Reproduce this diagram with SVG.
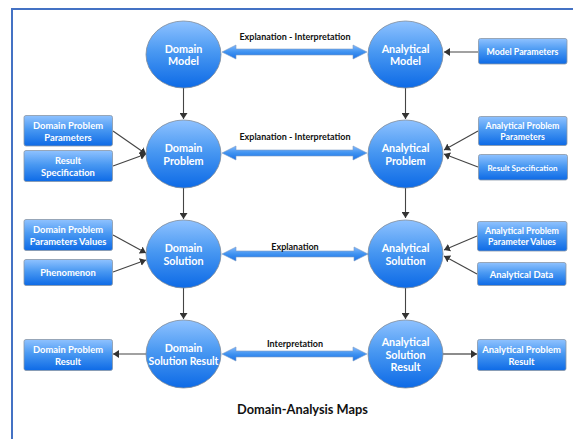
<svg xmlns="http://www.w3.org/2000/svg" width="573" height="439" viewBox="0 0 573 439">
<defs>
<linearGradient id="g" x1="0" y1="0" x2="0" y2="1"><stop offset="0" stop-color="#8fc2ff"/><stop offset="0.45" stop-color="#4a99f2"/><stop offset="1" stop-color="#0d6ae6"/></linearGradient>
<linearGradient id="b" x1="0" y1="0" x2="0" y2="1"><stop offset="0" stop-color="#7fb8ff"/><stop offset="0.5" stop-color="#3f92f0"/><stop offset="1" stop-color="#1a72e8"/></linearGradient>
<marker id="a" markerUnits="userSpaceOnUse" markerWidth="7" markerHeight="8" refX="6" refY="4" orient="auto"><path d="M0 0L6 4L0 8Z" fill="#333"/></marker>
</defs>
<style>
text{font-family:Lato,"Liberation Sans",sans-serif;text-anchor:middle}
.n ellipse{fill:url(#g);stroke:#7d8a99;stroke-width:.8}
.n rect{fill:url(#g);stroke:#8a97a6;stroke-width:.8}
.n text{fill:#fff;font-weight:700}
.c{font-size:10.800px}
.r{font-size:9.400px}
.s{font-size:8.800px}
.l{font-size:9px;font-weight:700;fill:#111}
.t{font-size:12.800px;font-weight:700;fill:#111}
.e line{stroke:#444;stroke-width:1.1;marker-end:url(#a)}
.d{fill:url(#b);stroke:#7d9cc4;stroke-width:.6}
</style>
<path d="M12 439V9H573" fill="none" stroke="#4472c4" stroke-width="2"/>
<g id="connectors" class="e">
<line x1="183.500" y1="88" x2="183.500" y2="119"/>
<line x1="183.500" y1="188" x2="183.500" y2="219"/>
<line x1="183.500" y1="288" x2="183.500" y2="319"/>
<line x1="405.500" y1="88" x2="405.500" y2="119"/>
<line x1="405.500" y1="188" x2="405.500" y2="218"/>
<line x1="405.500" y1="288" x2="405.500" y2="319"/>
<line x1="113" y1="131" x2="146" y2="154"/>
<line x1="113" y1="166" x2="146" y2="154"/>
<line x1="113" y1="235" x2="146" y2="253"/>
<line x1="113" y1="272" x2="146" y2="260"/>
<line x1="146" y1="354" x2="113" y2="354"/>
<line x1="478" y1="52" x2="444" y2="52"/>
<line x1="478" y1="131" x2="444" y2="150"/>
<line x1="478" y1="167" x2="444" y2="154"/>
<line x1="477" y1="236" x2="444" y2="250"/>
<line x1="477" y1="274" x2="444" y2="256"/>
<line x1="443" y1="354" x2="477" y2="354" style="stroke:#666;stroke-width:1.500"/>
<path class="d" d="M222 52L236 45V49H353V45L367 52L353 59V55H236V59Z"/>
<path class="d" d="M222 153L236 146V150H353V146L367 153L353 160V156H236V160Z"/>
<path class="d" d="M222 254L236 247V251H354V247L368 254L354 261V257H236V261Z"/>
<path class="d" d="M222 354L236 347V351H353V347L367 354L353 361V357H236V361Z"/>
</g>
<g id="domain-model" class="n"><ellipse cx="183.500" cy="54.500" rx="37.500" ry="33.500"/><text class="c" x="183.500" y="52.500">Domain</text><text class="c" x="183.500" y="65">Model</text></g>
<g id="domain-problem" class="n"><ellipse cx="183.500" cy="154" rx="37.500" ry="34"/><text class="c" x="183.500" y="152">Domain</text><text class="c" x="183.500" y="164.500">Problem</text></g>
<g id="domain-solution" class="n"><ellipse cx="183.500" cy="254" rx="37.500" ry="34"/><text class="c" x="183.500" y="252">Domain</text><text class="c" x="183.500" y="264.500">Solution</text></g>
<g id="domain-solution-result" class="n"><ellipse cx="183.500" cy="354" rx="37.500" ry="34"/><text class="c" x="183.500" y="352">Domain</text><text class="c" style="font-size:10.400px" x="183.500" y="364.500">Solution Result</text></g>
<g id="analytical-model" class="n"><ellipse cx="405.500" cy="54.500" rx="37.500" ry="33.500"/><text class="c" x="405.500" y="52.500">Analytical</text><text class="c" x="405.500" y="65">Model</text></g>
<g id="analytical-problem" class="n"><ellipse cx="405.500" cy="154" rx="37.500" ry="34"/><text class="c" x="405.500" y="152">Analytical</text><text class="c" x="405.500" y="164.500">Problem</text></g>
<g id="analytical-solution" class="n"><ellipse cx="405.500" cy="254" rx="37.500" ry="34"/><text class="c" x="405.500" y="252">Analytical</text><text class="c" x="405.500" y="264.500">Solution</text></g>
<g id="analytical-solution-result" class="n"><ellipse cx="405.500" cy="354" rx="37.500" ry="34"/><text class="c" x="405.500" y="346">Analytical</text><text class="c" x="405.500" y="358.500">Solution</text><text class="c" x="405.500" y="371">Result</text></g>
<g id="domain-problem-parameters" class="n"><rect x="24" y="115.500" width="88.500" height="30.500" rx="2"/><text class="r" x="68" y="129">Domain Problem</text><text class="r" x="68" y="141">Parameters</text></g>
<g id="result-specification-left" class="n"><rect x="24" y="150.500" width="88.500" height="31" rx="2"/><text class="r" x="68" y="164">Result</text><text class="r" x="68" y="176">Specification</text></g>
<g id="domain-problem-parameters-values" class="n"><rect x="24" y="219.500" width="88.500" height="31" rx="2"/><text class="r" x="68" y="233">Domain Problem</text><text class="r" x="68" y="245">Parameters Values</text></g>
<g id="phenomenon" class="n"><rect x="24" y="259.500" width="88.500" height="26" rx="2"/><text class="r" x="68" y="276">Phenomenon</text></g>
<g id="domain-problem-result" class="n"><rect x="24" y="339.500" width="88.500" height="31" rx="2"/><text class="r" x="68" y="353">Domain Problem</text><text class="r" x="68" y="365">Result</text></g>
<g id="model-parameters" class="n"><rect x="478.500" y="38.500" width="88.500" height="25.500" rx="2"/><text class="s" x="522.500" y="54.500">Model Parameters</text></g>
<g id="analytical-problem-parameters" class="n"><rect x="478.500" y="116.500" width="88.500" height="29" rx="2"/><text class="s" x="522.500" y="129">Analytical Problem</text><text class="s" x="522.500" y="140">Parameters</text></g>
<g id="result-specification-right" class="n"><rect x="478.500" y="154.500" width="89" height="25.500" rx="2"/><text class="s" style="font-size:8px" x="522.500" y="170.500">Result Specification</text></g>
<g id="analytical-problem-parameter-values" class="n"><rect x="477.500" y="221.500" width="89.500" height="29.500" rx="2"/><text class="s" x="522" y="234">Analytical Problem</text><text class="s" x="522" y="245">Parameter Values</text></g>
<g id="analytical-data" class="n"><rect x="477.500" y="262.500" width="88.500" height="23" rx="2"/><text class="r" x="521.500" y="277.500">Analytical Data</text></g>
<g id="analytical-problem-result" class="n"><rect x="477.500" y="339.500" width="88.500" height="31" rx="2"/><text class="r" x="521.500" y="353">Analytical Problem</text><text class="r" x="521.500" y="365">Result</text></g>
<text class="l" x="295" y="40">Explanation - Interpretation</text>
<text class="l" x="295" y="140">Explanation - Interpretation</text>
<text class="l" x="295" y="250">Explanation</text>
<text class="l" x="295" y="347">Interpretation</text>
<text class="t" x="302.500" y="414">Domain-Analysis Maps</text>
</svg>
